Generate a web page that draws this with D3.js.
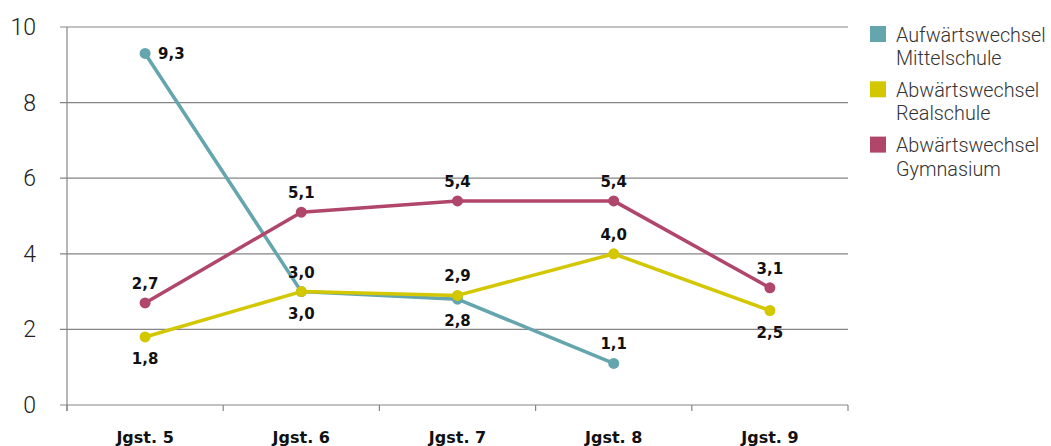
<!DOCTYPE html>
<html><head><meta charset="utf-8">
<script src="https://cdn.jsdelivr.net/npm/d3@7"></script>
<style>
body{margin:0;background:#fff;}
svg{display:block;font-family:"DejaVu Sans",sans-serif;}
.light{font-family:Roboto,"Liberation Sans",sans-serif;font-weight:300;}
</style></head>
<body><svg id="c" width="1051" height="446"></svg>
<script>
const categories = ["Jgst. 5","Jgst. 6","Jgst. 7","Jgst. 8","Jgst. 9"];
const seriesNames = [["Aufwärtswechsel","Mittelschule"],["Abwärtswechsel","Realschule"],["Abwärtswechsel","Gymnasium"]];
const colors = ["#64a5ae","#d2c700","#b0466a"];
const mittelschule = [9.3, 3.0, 2.8, 1.1, null];
const realschule = [1.8, 3.0, 2.9, 4.0, 2.5];
const gymnasium = [2.7, 5.1, 5.4, 5.4, 3.1];
const labelPos = [["right","below","below","above",null],["below","above","above","above","below"],["above","above","above","above","above"]];
const yTicks = [0,2,4,6,8,10];
const series = [mittelschule, realschule, gymnasium];

const svg = d3.select("#c");
const x = d3.scaleBand().domain(categories).range([67,848]);
const y = d3.scaleLinear().domain([0,10]).range([405,27]);

// gridlines
svg.append("g").selectAll("line").data(yTicks).join("line")
  .attr("x1",60).attr("x2",848).attr("y1",d=>y(d)).attr("y2",d=>y(d))
  .attr("stroke","#858585").attr("stroke-width",1.2);
// y axis line
svg.append("line").attr("x1",67).attr("x2",67).attr("y1",y(10)).attr("y2",411)
  .attr("stroke","#858585").attr("stroke-width",1.2);
// x ticks at band boundaries
const bounds = categories.map(c=>x(c)).concat([x(categories[4])+x.bandwidth()]);
svg.append("g").selectAll("line").data(bounds).join("line")
  .attr("x1",d=>d).attr("x2",d=>d).attr("y1",405).attr("y2",411)
  .attr("stroke","#858585").attr("stroke-width",1.2);
// y labels
svg.append("g").selectAll("text").data(yTicks).join("text").attr("class","light")
  .attr("x",36).attr("y",d=>y(d)+8).attr("text-anchor","end")
  .attr("font-size",23).attr("fill","#222").text(d=>d);
// x labels
svg.append("g").selectAll("text").data(categories).join("text")
  .attr("x",d=>x(d)+x.bandwidth()/2).attr("y",443).attr("text-anchor","middle")
  .attr("font-size",16).attr("font-weight","bold").attr("fill","#111").text(d=>d);

const cx = i => x(categories[i])+x.bandwidth()/2;
const line = d3.line().defined(d=>d.v!=null).x(d=>cx(d.i)).y(d=>y(d.v));
const fmt = v => v.toFixed(1).replace(".",",");
series.forEach((s,k)=>{
  const pts = s.map((v,i)=>({v,i}));
  svg.append("path").datum(pts).attr("d",line).attr("fill","none")
    .attr("stroke",colors[k]).attr("stroke-width",3.5).attr("stroke-linejoin","round");
  svg.append("g").selectAll("circle").data(pts.filter(d=>d.v!=null)).join("circle")
    .attr("cx",d=>cx(d.i)).attr("cy",d=>y(d.v)).attr("r",5.5).attr("fill",colors[k]);
});
series.forEach((s,k)=>{
  s.forEach((v,i)=>{
    if(v==null) return;
    const p = labelPos[k][i];
    let tx = cx(i), ty = y(v), anchor="middle";
    if(p==="above") ty -= 14;
    else if(p==="below") ty += 27;
    else { tx += 13; ty += 6; anchor="start"; }
    svg.append("text").attr("x",tx).attr("y",ty).attr("text-anchor",anchor)
      .attr("font-size",15).attr("font-weight","bold").attr("fill","#111").text(fmt(v));
  });
});
// legend
const lg = svg.append("g");
seriesNames.forEach((n,k)=>{
  const top = 26 + k*55.3;
  lg.append("rect").attr("x",870).attr("y",top).attr("width",16).attr("height",16).attr("fill",colors[k]);
  n.forEach((t,j)=>{
    lg.append("text").attr("class","light").attr("x",896).attr("y",top+15.7+j*23.3)
      .attr("font-size",19.8).attr("fill","#333").text(t);
  });
});
</script></body></html>
